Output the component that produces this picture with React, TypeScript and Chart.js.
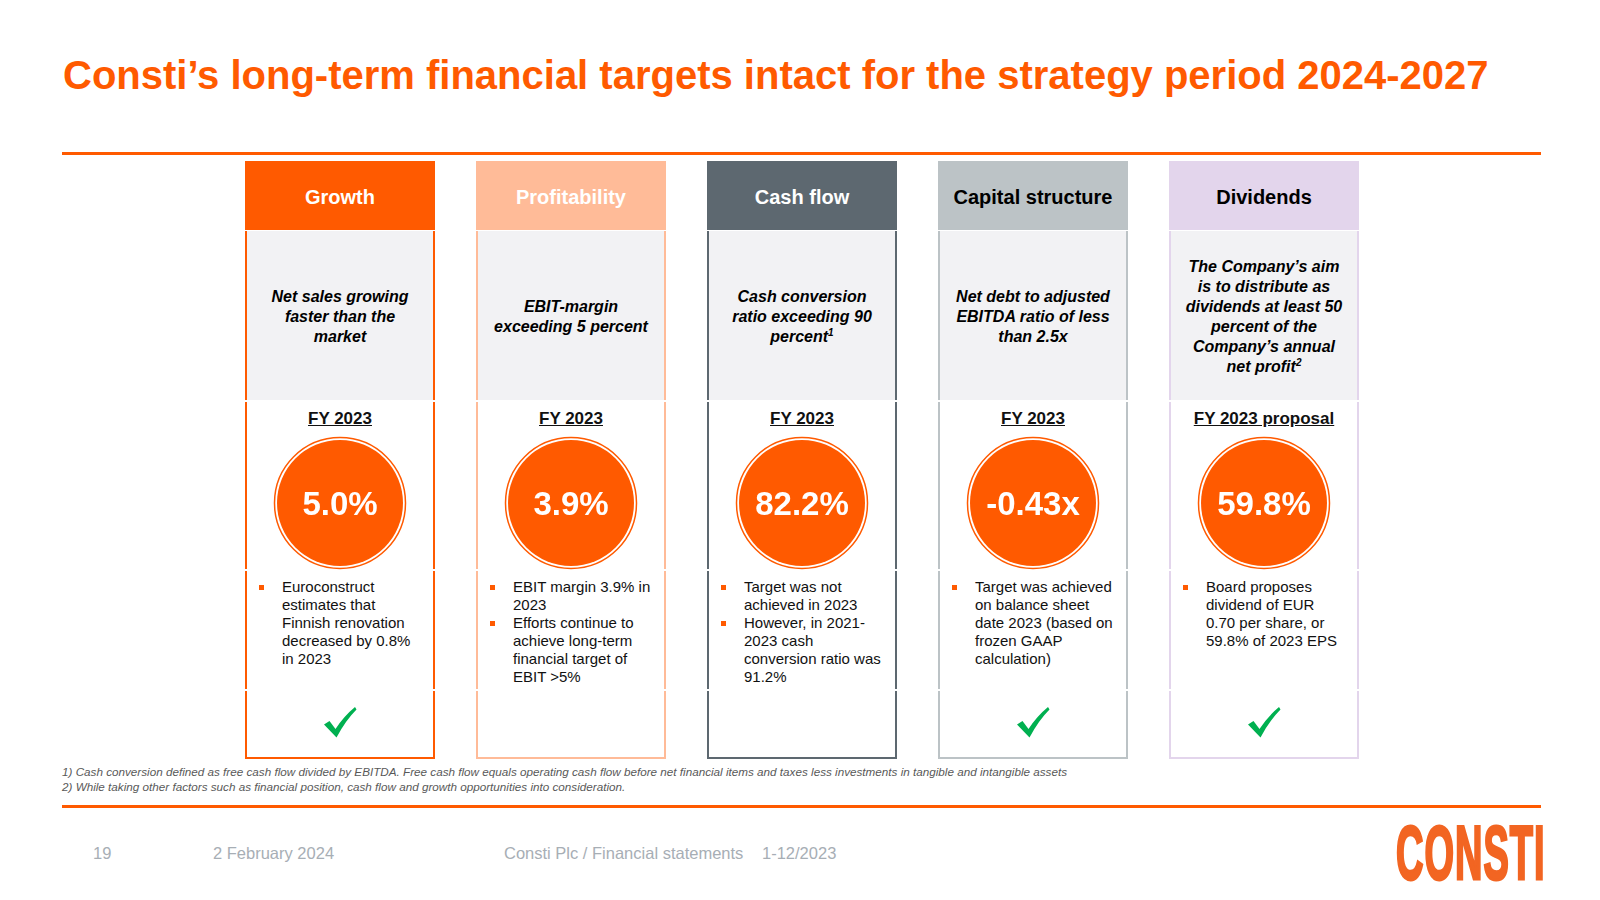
import React, { useEffect, useRef } from "react";
import { Chart, registerables } from "chart.js";

Chart.register(...registerables);

// ---------- data ----------
const categories = ["Growth", "Profitability", "Cash flow", "Capital structure", "Dividends"];
const values = [5.0, 3.9, 82.2, -0.43, 59.8];
const units = ["%", "%", "%", "x", "%"];
const decimals = [1, 1, 1, 2, 1];
const periodLabels = ["FY 2023", "FY 2023", "FY 2023", "FY 2023", "FY 2023 proposal"];
const achieved = [true, false, false, true, true];
const targetLines = [
  ["Net sales growing", "faster than the", "market"],
  ["EBIT-margin", "exceeding 5 percent"],
  ["Cash conversion", "ratio exceeding 90", "percent¹"],
  ["Net debt to adjusted", "EBITDA ratio of less", "than 2.5x"],
  ["The Company’s aim", "is to distribute as", "dividends at least 50", "percent of the", "Company’s annual", "net profit²"],
];
const bulletLines = [
  [["Euroconstruct", "estimates that", "Finnish renovation", "decreased by 0.8%", "in 2023"]],
  [["EBIT margin 3.9% in", "2023"], ["Efforts continue to", "achieve long-term", "financial target of", "EBIT >5%"]],
  [["Target was not", "achieved in 2023"], ["However, in 2021-", "2023 cash", "conversion ratio was", "91.2%"]],
  [["Target was achieved", "on balance sheet", "date 2023 (based on", "frozen GAAP", "calculation)"]],
  [["Board proposes", "dividend of EUR", "0.70 per share, or", "59.8% of 2023 EPS"]],
];
const footnotes = [
  "1) Cash conversion defined as free cash flow divided by EBITDA. Free cash flow equals operating cash flow before net financial items and taxes less investments in tangible and intangible assets",
  "2) While taking other factors such as financial position, cash flow and growth opportunities into consideration.",
];

const valueLabels = values.map((v, i) => v.toFixed(decimals[i]) + units[i]);

// ---------- styles ----------
const FONT = '"Liberation Sans", Arial, Helvetica, sans-serif';
const ORANGE = "#FF5A00";
const headerBg = ["#FF5A00", "#FFBB98", "#5D6870", "#BCC3C6", "#E3D5EC"];
const borderCol = ["#FF5A00", "#FFBB98", "#5D6870", "#BCC3C6", "#E3D5EC"];
const headerText = ["#FFFFFF", "#FFFFFF", "#FFFFFF", "#000000", "#000000"];
const COL_LEFT = 245;
const COL_STEP = 231;
const COL_W = 190;
const CANVAS_TOP = 432;
const CANVAS_H = 142;
const CANVAS_W = COL_STEP * 4 + COL_W;

const valueLabelPlugin = {
  id: "valueLabelPlugin",
  afterDatasetsDraw(chart: any) {
    const meta = chart.getDatasetMeta(1);
    const ctx = chart.ctx;
    ctx.save();
    ctx.font = `bold 33px ${FONT}`;
    ctx.fillStyle = "#FFFFFF";
    ctx.textAlign = "center";
    ctx.textBaseline = "middle";
    meta.data.forEach((pt: any, i: number) => {
      ctx.fillText(valueLabels[i], pt.x, pt.y + 3);
    });
    ctx.restore();
  },
};

function CirclesChart() {
  const ref = useRef<HTMLCanvasElement | null>(null);
  useEffect(() => {
    if (!ref.current) return;
    const half = COL_W / 2 / COL_STEP;
    const pts = categories.map((_, i) => ({ x: i, y: 0 }));
    const chart = new Chart(ref.current, {
      type: "scatter",
      data: {
        datasets: [
          {
            label: "ring",
            data: pts,
            pointRadius: 65.5,
            pointHoverRadius: 65.5,
            backgroundColor: "rgba(0,0,0,0)",
            borderColor: ORANGE,
            borderWidth: 1.5,
            clip: false,
          } as any,
          {
            label: "FY 2023",
            data: pts,
            pointRadius: 63,
            pointHoverRadius: 63,
            backgroundColor: ORANGE,
            borderWidth: 0,
            clip: false,
          } as any,
        ],
      },
      options: {
        animation: false,
        responsive: false,
        devicePixelRatio: 1,
        events: [],
        layout: { padding: 0, autoPadding: false } as any,
        plugins: { legend: { display: false }, tooltip: { enabled: false } },
        scales: {
          x: { type: "linear", min: -half, max: categories.length - 1 + half, display: false },
          y: { type: "linear", min: -1, max: 1, display: false },
        },
      },
      plugins: [valueLabelPlugin],
    });
    return () => chart.destroy();
  }, []);
  return (
    <canvas
      ref={ref}
      width={CANVAS_W}
      height={CANVAS_H}
      style={{ position: "absolute", left: COL_LEFT, top: CANVAS_TOP, width: CANVAS_W, height: CANVAS_H }}
    />
  );
}

function Check({ cx, cy }: { cx: number; cy: number }) {
  return (
    <svg
      width={33}
      height={31}
      viewBox="0 0 33 31"
      style={{ position: "absolute", left: cx - 16, top: cy - 15 }}
    >
      <path d="M0,17.5 L5.5,14 L11.5,22 Q20,9 31,0 L32.5,2.5 Q21.5,13.5 12.5,30.5 Z" fill="#00B050" />
    </svg>
  );
}

function Column({ i }: { i: number }) {
  const left = COL_LEFT + i * COL_STEP;
  const bc = borderCol[i];
  const side = { borderLeft: `2px solid ${bc}`, borderRight: `2px solid ${bc}`, boxSizing: "border-box" as const };
  return (
    <>
      <div
        style={{
          position: "absolute", left, top: 161, width: COL_W, height: 69, background: headerBg[i],
          color: headerText[i], font: `bold 20px ${FONT}`, display: "flex", alignItems: "center",
          justifyContent: "center", textAlign: "center", paddingTop: 3, boxSizing: "border-box",
        }}
      >
        {categories[i]}
      </div>
      <div
        style={{
          position: "absolute", left, top: 231, width: COL_W, height: 169, background: "#F2F2F4", ...side,
          display: "flex", flexDirection: "column", alignItems: "center", justifyContent: "center",
          font: `italic bold 16px ${FONT}`, lineHeight: "20px", color: "#000", textAlign: "center",
          paddingTop: 2,
        }}
      >
        {targetLines[i].map((t, k) => {
          const m = t.match(/^(.*?)([¹²])$/);
          return (
            <div key={k} style={{ whiteSpace: "nowrap", height: 20 }}>
              {m ? (
                <>
                  {m[1]}
                  <span style={{ fontSize: 10, lineHeight: 0, position: "relative", top: -6 }}>
                    {m[2] === "¹" ? "1" : "2"}
                  </span>
                </>
              ) : (
                t
              )}
            </div>
          );
        })}
      </div>
      <div style={{ position: "absolute", left, top: 402, width: COL_W, height: 167, ...side }} />
      <div style={{ position: "absolute", left, top: 571, width: COL_W, height: 118, ...side }} />
      <div
        style={{ position: "absolute", left, top: 691, width: COL_W, height: 68, ...side, borderBottom: `2px solid ${bc}` }}
      />
      <div
        style={{
          position: "absolute", left, top: 409, width: COL_W, textAlign: "center", font: `bold 17px ${FONT}`,
          lineHeight: "20px", color: "#111", textDecoration: "underline", whiteSpace: "nowrap",
        }}
      >
        {periodLabels[i]}
      </div>
      <div style={{ position: "absolute", left: left + 37, top: 578, font: `15px ${FONT}`, lineHeight: "18px", color: "#111" }}>
        {bulletLines[i].map((b, k) => (
          <div key={k} style={{ position: "relative" }}>
            <div style={{ position: "absolute", left: -23, top: 6.5, width: 5, height: 5, background: ORANGE }} />
            {b.map((ln, j) => (
              <div key={j} style={{ whiteSpace: "nowrap" }}>{ln}</div>
            ))}
          </div>
        ))}
      </div>
      {achieved[i] ? <Check cx={left + COL_W / 2} cy={722} /> : null}
    </>
  );
}

const footerStyle = {
  position: "absolute" as const, top: 843, font: `16.5px ${FONT}`, lineHeight: "20px",
  color: "#A7AEB5", whiteSpace: "nowrap" as const,
};

export default function App() {
  return (
    <div
      style={{
        position: "absolute", left: 0, top: 0, width: 1600, height: 900, background: "#fff",
        overflow: "hidden", fontFamily: FONT,
      }}
    >
      <div
        style={{
          position: "absolute", left: 63, top: 55, font: `bold 40px ${FONT}`, lineHeight: "40px",
          color: ORANGE, whiteSpace: "nowrap",
        }}
      >
        Consti’s long-term financial targets intact for the strategy period 2024-2027
      </div>
      <div style={{ position: "absolute", left: 62, top: 152, width: 1479, height: 3, background: ORANGE }} />

      {categories.map((_, i) => (
        <Column key={i} i={i} />
      ))}
      <CirclesChart />

      <div
        style={{
          position: "absolute", left: 62, top: 765, font: `italic 11.7px ${FONT}`, lineHeight: "14.5px",
          color: "#595959", whiteSpace: "nowrap",
        }}
      >
        {footnotes.map((f, k) => (
          <div key={k}>{f}</div>
        ))}
      </div>
      <div style={{ position: "absolute", left: 62, top: 805, width: 1479, height: 3, background: ORANGE }} />

      <div style={{ ...footerStyle, left: 93 }}>19</div>
      <div style={{ ...footerStyle, left: 213 }}>2 February 2024</div>
      <div style={{ ...footerStyle, left: 504 }}>Consti Plc / Financial statements</div>
      <div style={{ ...footerStyle, left: 762 }}>1-12/2023</div>
      <div
        style={{
          position: "absolute", left: 1396, top: 815, font: `bold 76px ${FONT}`, lineHeight: "76px",
          color: "#F26522", whiteSpace: "nowrap", transform: "scaleX(0.5)", transformOrigin: "left top",
          letterSpacing: "2px", WebkitTextStroke: "3px #F26522",
        }}
      >
        CONSTI
      </div>
    </div>
  );
}
